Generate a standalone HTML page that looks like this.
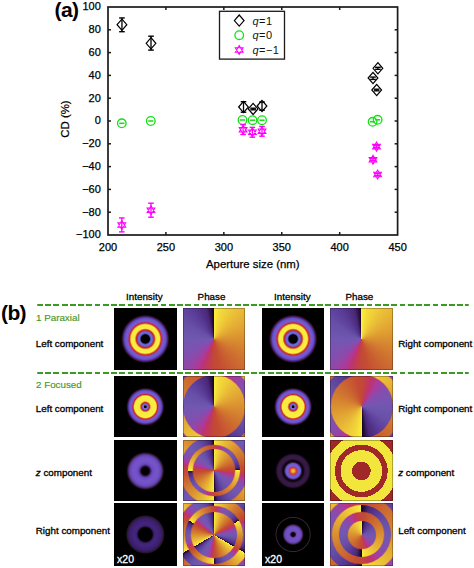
<!DOCTYPE html>
<html><head><meta charset="utf-8"><style>
html,body{margin:0;padding:0;background:#fff;}
body{width:474px;height:568px;position:relative;overflow:hidden;font-family:"Liberation Sans",sans-serif;}
.tk{font-family:"Liberation Sans",sans-serif;font-size:11px;fill:#000;stroke:#000;stroke-width:0.25px;}
.al{font-family:"Liberation Sans",sans-serif;font-size:11.4px;fill:#000;stroke:#000;stroke-width:0.25px;}
.lg{font-family:"Liberation Sans",sans-serif;font-size:11px;fill:#111;letter-spacing:0.45px;}
.pl{font-family:"Liberation Sans",sans-serif;font-size:21px;font-weight:bold;fill:#000;letter-spacing:-0.6px;}
.im{position:absolute;width:62px;height:62px;overflow:hidden;}
.im::after{content:'';position:absolute;inset:0;box-shadow:inset 0 0 0 1px rgba(0,0,0,0.28);}
.rg{position:absolute;border-radius:50%;box-shadow:0 0 0 0.6px rgba(226,112,40,0.5);}
.lb{position:absolute;font-size:9.8px;line-height:0;color:#000;white-space:nowrap;-webkit-text-stroke:0.3px currentColor;}
.hd{width:80px;text-align:center;}
.gr{color:#43972a;-webkit-text-stroke:0.15px currentColor;}
.pl2{position:absolute;font-size:21px;font-weight:bold;line-height:0;color:#000;letter-spacing:-0.6px;}
.x20{position:absolute;left:3px;top:55.96px;color:#fff;font-size:10.5px;line-height:0;-webkit-text-stroke:0.3px #fff;}
.dash{position:absolute;left:37.2px;width:432.2px;height:2px;border-radius:1px;background:repeating-linear-gradient(90deg,#3a9a22 0 5.8px,transparent 5.8px 8.24px);}
</style></head><body>
<svg width="474" height="290" viewBox="0 0 474 290" style="position:absolute;left:0;top:0">
<rect x="108.0" y="7.0" width="289.6" height="228.0" fill="none" stroke="#1a1a1a" stroke-width="1.7"/>
<text x="100.8" y="238.40" text-anchor="end" class="tk">−100</text>
<line x1="108.0" y1="212.20" x2="111.0" y2="212.20" stroke="#1a1a1a" stroke-width="1.5"/>
<line x1="397.6" y1="212.20" x2="394.6" y2="212.20" stroke="#1a1a1a" stroke-width="1.5"/>
<text x="100.8" y="215.60" text-anchor="end" class="tk">−80</text>
<line x1="108.0" y1="189.40" x2="111.0" y2="189.40" stroke="#1a1a1a" stroke-width="1.5"/>
<line x1="397.6" y1="189.40" x2="394.6" y2="189.40" stroke="#1a1a1a" stroke-width="1.5"/>
<text x="100.8" y="192.80" text-anchor="end" class="tk">−60</text>
<line x1="108.0" y1="166.60" x2="111.0" y2="166.60" stroke="#1a1a1a" stroke-width="1.5"/>
<line x1="397.6" y1="166.60" x2="394.6" y2="166.60" stroke="#1a1a1a" stroke-width="1.5"/>
<text x="100.8" y="170.00" text-anchor="end" class="tk">−40</text>
<line x1="108.0" y1="143.80" x2="111.0" y2="143.80" stroke="#1a1a1a" stroke-width="1.5"/>
<line x1="397.6" y1="143.80" x2="394.6" y2="143.80" stroke="#1a1a1a" stroke-width="1.5"/>
<text x="100.8" y="147.20" text-anchor="end" class="tk">−20</text>
<line x1="108.0" y1="121.00" x2="111.0" y2="121.00" stroke="#1a1a1a" stroke-width="1.5"/>
<line x1="397.6" y1="121.00" x2="394.6" y2="121.00" stroke="#1a1a1a" stroke-width="1.5"/>
<text x="100.8" y="124.40" text-anchor="end" class="tk">0</text>
<line x1="108.0" y1="98.20" x2="111.0" y2="98.20" stroke="#1a1a1a" stroke-width="1.5"/>
<line x1="397.6" y1="98.20" x2="394.6" y2="98.20" stroke="#1a1a1a" stroke-width="1.5"/>
<text x="100.8" y="101.60" text-anchor="end" class="tk">20</text>
<line x1="108.0" y1="75.40" x2="111.0" y2="75.40" stroke="#1a1a1a" stroke-width="1.5"/>
<line x1="397.6" y1="75.40" x2="394.6" y2="75.40" stroke="#1a1a1a" stroke-width="1.5"/>
<text x="100.8" y="78.80" text-anchor="end" class="tk">40</text>
<line x1="108.0" y1="52.60" x2="111.0" y2="52.60" stroke="#1a1a1a" stroke-width="1.5"/>
<line x1="397.6" y1="52.60" x2="394.6" y2="52.60" stroke="#1a1a1a" stroke-width="1.5"/>
<text x="100.8" y="56.00" text-anchor="end" class="tk">60</text>
<line x1="108.0" y1="29.80" x2="111.0" y2="29.80" stroke="#1a1a1a" stroke-width="1.5"/>
<line x1="397.6" y1="29.80" x2="394.6" y2="29.80" stroke="#1a1a1a" stroke-width="1.5"/>
<text x="100.8" y="33.20" text-anchor="end" class="tk">80</text>
<text x="100.8" y="10.40" text-anchor="end" class="tk">100</text>
<text x="108.00" y="250.6" text-anchor="middle" class="tk">200</text>
<line x1="165.92" y1="235.0" x2="165.92" y2="232.0" stroke="#1a1a1a" stroke-width="1.5"/>
<line x1="165.92" y1="7.0" x2="165.92" y2="10.0" stroke="#1a1a1a" stroke-width="1.5"/>
<text x="165.92" y="250.6" text-anchor="middle" class="tk">250</text>
<line x1="223.84" y1="235.0" x2="223.84" y2="232.0" stroke="#1a1a1a" stroke-width="1.5"/>
<line x1="223.84" y1="7.0" x2="223.84" y2="10.0" stroke="#1a1a1a" stroke-width="1.5"/>
<text x="223.84" y="250.6" text-anchor="middle" class="tk">300</text>
<line x1="281.76" y1="235.0" x2="281.76" y2="232.0" stroke="#1a1a1a" stroke-width="1.5"/>
<line x1="281.76" y1="7.0" x2="281.76" y2="10.0" stroke="#1a1a1a" stroke-width="1.5"/>
<text x="281.76" y="250.6" text-anchor="middle" class="tk">350</text>
<line x1="339.68" y1="235.0" x2="339.68" y2="232.0" stroke="#1a1a1a" stroke-width="1.5"/>
<line x1="339.68" y1="7.0" x2="339.68" y2="10.0" stroke="#1a1a1a" stroke-width="1.5"/>
<text x="339.68" y="250.6" text-anchor="middle" class="tk">400</text>
<text x="397.60" y="250.6" text-anchor="middle" class="tk">450</text>
<text x="252.8" y="268" text-anchor="middle" class="al">Aperture size (nm)</text>
<text transform="translate(68.8,119) rotate(-90)" text-anchor="middle" class="al">CD (%)</text>
<text x="54.6" y="17.0" class="pl">(a)</text>
<line x1="121.95" y1="17.95" x2="121.95" y2="31.70" stroke="#000" stroke-width="1.3"/><line x1="119.15" y1="17.95" x2="124.75" y2="17.95" stroke="#000" stroke-width="1.4"/><line x1="119.15" y1="31.70" x2="124.75" y2="31.70" stroke="#000" stroke-width="1.4"/>
<path d="M117.10,24.70 L121.95,19.10 L126.80,24.70 L121.95,30.30 Z" fill="none" stroke="#000" stroke-width="1.2"/>
<line x1="151.00" y1="36.20" x2="151.00" y2="50.10" stroke="#000" stroke-width="1.3"/><line x1="148.20" y1="36.20" x2="153.80" y2="36.20" stroke="#000" stroke-width="1.4"/><line x1="148.20" y1="50.10" x2="153.80" y2="50.10" stroke="#000" stroke-width="1.4"/>
<path d="M146.15,43.30 L151.00,37.70 L155.85,43.30 L151.00,48.90 Z" fill="none" stroke="#000" stroke-width="1.2"/>
<line x1="243.50" y1="101.70" x2="243.50" y2="112.20" stroke="#000" stroke-width="1.3"/><line x1="240.70" y1="101.70" x2="246.30" y2="101.70" stroke="#000" stroke-width="1.4"/><line x1="240.70" y1="112.20" x2="246.30" y2="112.20" stroke="#000" stroke-width="1.4"/>
<path d="M238.65,107.00 L243.50,101.40 L248.35,107.00 L243.50,112.60 Z" fill="none" stroke="#000" stroke-width="1.2"/>
<line x1="253.10" y1="108.20" x2="253.10" y2="109.80" stroke="#000" stroke-width="1.3"/><line x1="250.30" y1="108.20" x2="255.90" y2="108.20" stroke="#000" stroke-width="1.4"/><line x1="250.30" y1="109.80" x2="255.90" y2="109.80" stroke="#000" stroke-width="1.4"/>
<path d="M248.25,108.90 L253.10,103.30 L257.95,108.90 L253.10,114.50 Z" fill="none" stroke="#000" stroke-width="1.2"/>
<line x1="262.00" y1="102.00" x2="262.00" y2="110.20" stroke="#000" stroke-width="1.3"/><line x1="259.20" y1="102.00" x2="264.80" y2="102.00" stroke="#000" stroke-width="1.4"/><line x1="259.20" y1="110.20" x2="264.80" y2="110.20" stroke="#000" stroke-width="1.4"/>
<path d="M257.15,106.00 L262.00,100.40 L266.85,106.00 L262.00,111.60 Z" fill="none" stroke="#000" stroke-width="1.2"/>
<line x1="377.90" y1="67.30" x2="377.90" y2="69.30" stroke="#000" stroke-width="1.3"/><line x1="375.10" y1="67.30" x2="380.70" y2="67.30" stroke="#000" stroke-width="1.4"/><line x1="375.10" y1="69.30" x2="380.70" y2="69.30" stroke="#000" stroke-width="1.4"/>
<path d="M373.05,68.30 L377.90,62.70 L382.75,68.30 L377.90,73.90 Z" fill="none" stroke="#000" stroke-width="1.2"/>
<line x1="373.00" y1="77.10" x2="373.00" y2="79.40" stroke="#000" stroke-width="1.3"/><line x1="370.20" y1="77.10" x2="375.80" y2="77.10" stroke="#000" stroke-width="1.4"/><line x1="370.20" y1="79.40" x2="375.80" y2="79.40" stroke="#000" stroke-width="1.4"/>
<path d="M368.15,78.00 L373.00,72.40 L377.85,78.00 L373.00,83.60 Z" fill="none" stroke="#000" stroke-width="1.2"/>
<line x1="376.70" y1="89.20" x2="376.70" y2="90.80" stroke="#000" stroke-width="1.3"/><line x1="373.90" y1="89.20" x2="379.50" y2="89.20" stroke="#000" stroke-width="1.4"/><line x1="373.90" y1="90.80" x2="379.50" y2="90.80" stroke="#000" stroke-width="1.4"/>
<path d="M371.85,90.00 L376.70,84.40 L381.55,90.00 L376.70,95.60 Z" fill="none" stroke="#000" stroke-width="1.2"/>
<line x1="119.20" y1="123.30" x2="124.40" y2="123.30" stroke="#11e011" stroke-width="1.5"/>
<circle cx="121.80" cy="123.30" r="4.3" fill="none" stroke="#11e011" stroke-width="1.3"/>
<line x1="148.20" y1="121.00" x2="153.40" y2="121.00" stroke="#11e011" stroke-width="1.5"/>
<circle cx="150.80" cy="121.00" r="4.3" fill="none" stroke="#11e011" stroke-width="1.3"/>
<line x1="239.90" y1="120.00" x2="245.10" y2="120.00" stroke="#11e011" stroke-width="1.5"/>
<circle cx="242.50" cy="120.00" r="4.3" fill="none" stroke="#11e011" stroke-width="1.3"/>
<line x1="250.00" y1="120.20" x2="255.20" y2="120.20" stroke="#11e011" stroke-width="1.5"/>
<circle cx="252.60" cy="120.20" r="4.3" fill="none" stroke="#11e011" stroke-width="1.3"/>
<line x1="259.40" y1="120.20" x2="264.60" y2="120.20" stroke="#11e011" stroke-width="1.5"/>
<circle cx="262.00" cy="120.20" r="4.3" fill="none" stroke="#11e011" stroke-width="1.3"/>
<line x1="370.00" y1="121.80" x2="375.20" y2="121.80" stroke="#11e011" stroke-width="1.5"/>
<circle cx="372.60" cy="121.80" r="4.3" fill="none" stroke="#11e011" stroke-width="1.3"/>
<line x1="375.00" y1="119.80" x2="380.20" y2="119.80" stroke="#11e011" stroke-width="1.5"/>
<circle cx="377.60" cy="119.80" r="4.3" fill="none" stroke="#11e011" stroke-width="1.3"/>
<line x1="121.80" y1="217.95" x2="121.80" y2="231.90" stroke="#ff00ff" stroke-width="1.3"/><line x1="119.00" y1="217.95" x2="124.60" y2="217.95" stroke="#ff00ff" stroke-width="1.4"/><line x1="119.00" y1="231.90" x2="124.60" y2="231.90" stroke="#ff00ff" stroke-width="1.4"/>
<path d="M121.80,220.50 L125.70,227.25 L117.90,227.25 Z M125.70,222.75 L121.80,229.50 L117.90,222.75 Z" fill="none" stroke="#ff00ff" stroke-width="1.05" stroke-linejoin="miter"/>
<line x1="151.00" y1="203.20" x2="151.00" y2="217.20" stroke="#ff00ff" stroke-width="1.3"/><line x1="148.20" y1="203.20" x2="153.80" y2="203.20" stroke="#ff00ff" stroke-width="1.4"/><line x1="148.20" y1="217.20" x2="153.80" y2="217.20" stroke="#ff00ff" stroke-width="1.4"/>
<path d="M151.00,205.80 L154.90,212.55 L147.10,212.55 Z M154.90,208.05 L151.00,214.80 L147.10,208.05 Z" fill="none" stroke="#ff00ff" stroke-width="1.05" stroke-linejoin="miter"/>
<line x1="243.10" y1="124.70" x2="243.10" y2="134.50" stroke="#ff00ff" stroke-width="1.3"/><line x1="240.30" y1="124.70" x2="245.90" y2="124.70" stroke="#ff00ff" stroke-width="1.4"/><line x1="240.30" y1="134.50" x2="245.90" y2="134.50" stroke="#ff00ff" stroke-width="1.4"/>
<path d="M243.10,125.30 L247.00,132.05 L239.20,132.05 Z M247.00,127.55 L243.10,134.30 L239.20,127.55 Z" fill="none" stroke="#ff00ff" stroke-width="1.05" stroke-linejoin="miter"/>
<line x1="252.40" y1="127.40" x2="252.40" y2="137.20" stroke="#ff00ff" stroke-width="1.3"/><line x1="249.60" y1="127.40" x2="255.20" y2="127.40" stroke="#ff00ff" stroke-width="1.4"/><line x1="249.60" y1="137.20" x2="255.20" y2="137.20" stroke="#ff00ff" stroke-width="1.4"/>
<path d="M252.40,127.70 L256.30,134.45 L248.50,134.45 Z M256.30,129.95 L252.40,136.70 L248.50,129.95 Z" fill="none" stroke="#ff00ff" stroke-width="1.05" stroke-linejoin="miter"/>
<line x1="262.00" y1="126.40" x2="262.00" y2="136.20" stroke="#ff00ff" stroke-width="1.3"/><line x1="259.20" y1="126.40" x2="264.80" y2="126.40" stroke="#ff00ff" stroke-width="1.4"/><line x1="259.20" y1="136.20" x2="264.80" y2="136.20" stroke="#ff00ff" stroke-width="1.4"/>
<path d="M262.00,126.80 L265.90,133.55 L258.10,133.55 Z M265.90,129.05 L262.00,135.80 L258.10,129.05 Z" fill="none" stroke="#ff00ff" stroke-width="1.05" stroke-linejoin="miter"/>
<line x1="376.50" y1="145.60" x2="376.50" y2="147.60" stroke="#ff00ff" stroke-width="1.3"/><line x1="373.70" y1="145.60" x2="379.30" y2="145.60" stroke="#ff00ff" stroke-width="1.4"/><line x1="373.70" y1="147.60" x2="379.30" y2="147.60" stroke="#ff00ff" stroke-width="1.4"/>
<path d="M376.50,142.10 L380.40,148.85 L372.60,148.85 Z M380.40,144.35 L376.50,151.10 L372.60,144.35 Z" fill="none" stroke="#ff00ff" stroke-width="1.05" stroke-linejoin="miter"/>
<line x1="373.00" y1="158.70" x2="373.00" y2="160.70" stroke="#ff00ff" stroke-width="1.3"/><line x1="370.20" y1="158.70" x2="375.80" y2="158.70" stroke="#ff00ff" stroke-width="1.4"/><line x1="370.20" y1="160.70" x2="375.80" y2="160.70" stroke="#ff00ff" stroke-width="1.4"/>
<path d="M373.00,155.20 L376.90,161.95 L369.10,161.95 Z M376.90,157.45 L373.00,164.20 L369.10,157.45 Z" fill="none" stroke="#ff00ff" stroke-width="1.05" stroke-linejoin="miter"/>
<line x1="377.60" y1="173.50" x2="377.60" y2="175.50" stroke="#ff00ff" stroke-width="1.3"/><line x1="374.80" y1="173.50" x2="380.40" y2="173.50" stroke="#ff00ff" stroke-width="1.4"/><line x1="374.80" y1="175.50" x2="380.40" y2="175.50" stroke="#ff00ff" stroke-width="1.4"/>
<path d="M377.60,170.00 L381.50,176.75 L373.70,176.75 Z M381.50,172.25 L377.60,179.00 L373.70,172.25 Z" fill="none" stroke="#ff00ff" stroke-width="1.05" stroke-linejoin="miter"/>
<rect x="219.5" y="11.3" width="65" height="47.8" fill="#fff" stroke="#1a1a1a" stroke-width="1.3"/>
<path d="M234.35,20.60 L239.20,15.00 L244.05,20.60 L239.20,26.20 Z" fill="none" stroke="#000" stroke-width="1.2"/>
<circle cx="239.20" cy="35.20" r="4.3" fill="none" stroke="#11e011" stroke-width="1.3"/>
<path d="M239.20,45.50 L243.10,52.25 L235.30,52.25 Z M243.10,47.75 L239.20,54.50 L235.30,47.75 Z" fill="none" stroke="#ff00ff" stroke-width="1.05" stroke-linejoin="miter"/>
<text x="252.5" y="24.6" class="lg"><tspan font-style="italic">q</tspan>=1</text>
<text x="252.5" y="39.2" class="lg"><tspan font-style="italic">q</tspan>=0</text>
<text x="252.5" y="54" class="lg"><tspan font-style="italic">q</tspan>=−1</text>
</svg>
<div class="im" style="left:114.1px;top:308.0px;width:62.65px;height:61.9px;background:radial-gradient(circle at 31.32px 30.95px, #000 0px, #000 4.2px, #4040a0 5px, #7070e0 6px, #7060d0 7.2px, #a03870 8px, #c82828 9px, #e89028 9.9px, #f8e840 10.6px, #f8f040 14.2px, #e89028 15px, #c82828 15.9px, #a040a0 17px, #7060d0 18.3px, #6850c8 20.5px, #4a2890 22px, #301018 23.2px, #000 24.2px)"></div>
<div class="im" style="left:182.9px;top:308.0px;width:62.05px;height:61.9px;background:repeating-conic-gradient(from 0deg, #fcf040 0.00deg, #f4dc3a 10.80deg, #e8b836 45.00deg, #e0a032 72.00deg, #da9030 90.00deg, #cc6a30 135.00deg, #c44c32 169.20deg, #c24838 180.00deg, #c23c50 190.80deg, #bc3470 201.60deg, #b03898 210.60deg, #9048a8 225.00deg, #8050b0 241.20deg, #7058b0 270.00deg, #6850a8 298.80deg, #5a3c98 324.00deg, #4a2878 345.60deg, #2a1040 354.60deg, #100418 360.00deg)"></div>
<div class="im" style="left:262.1px;top:308.0px;width:62.2px;height:61.9px;background:radial-gradient(circle at 31.10px 30.95px, #000 0px, #000 4.2px, #4040a0 5px, #7070e0 6px, #7060d0 7.2px, #a03870 8px, #c82828 9px, #e89028 9.9px, #f8e840 10.6px, #f8f040 14.2px, #e89028 15px, #c82828 15.9px, #a040a0 17px, #7060d0 18.3px, #6850c8 20.5px, #4a2890 22px, #301018 23.2px, #000 24.2px)"></div>
<div class="im" style="left:330.4px;top:308.0px;width:62.65px;height:61.9px;background:repeating-conic-gradient(from 0deg, #fcf040 0.00deg, #f4dc3a 10.80deg, #e8b836 45.00deg, #e0a032 72.00deg, #da9030 90.00deg, #cc6a30 135.00deg, #c44c32 169.20deg, #c24838 180.00deg, #c23c50 190.80deg, #bc3470 201.60deg, #b03898 210.60deg, #9048a8 225.00deg, #8050b0 241.20deg, #7058b0 270.00deg, #6850a8 298.80deg, #5a3c98 324.00deg, #4a2878 345.60deg, #2a1040 354.60deg, #100418 360.00deg)"></div>
<div class="im" style="left:114.1px;top:375.8px;width:62.65px;height:61.5px;background:radial-gradient(circle at 31.32px 30.75px, #000 0px, #000 1px, #7070e0 1.8px, #7060d0 2.9px, #a03870 3.6px, #c82828 4.3px, #e89028 5.0px, #f8e840 5.8px, #f8f040 10.8px, #e89028 11.5px, #c82828 12.2px, #a040a0 13.2px, #7060d0 14.2px, #6850c8 16px, #4a2890 17.2px, #301018 18.2px, #000 19px)"></div>
<div class="im" style="left:182.9px;top:375.8px;width:62.05px;height:61.5px;background:repeating-conic-gradient(from 0deg, #fcf040 0.00deg, #f4dc3a 10.80deg, #e8b836 45.00deg, #e0a032 72.00deg, #da9030 90.00deg, #cc6a30 135.00deg, #c44c32 169.20deg, #c24838 180.00deg, #c23c50 190.80deg, #bc3470 201.60deg, #b03898 210.60deg, #9048a8 225.00deg, #8050b0 241.20deg, #7058b0 270.00deg, #6850a8 298.80deg, #5a3c98 324.00deg, #4a2878 345.60deg, #2a1040 354.60deg, #100418 360.00deg)"><div class="rg" style="width:80.80px;height:80.80px;left:-9.38px;top:-9.65px;background:repeating-conic-gradient(from 180.0deg, #fcf040 0.00deg, #f4dc3a 10.80deg, #e8b836 45.00deg, #e0a032 72.00deg, #da9030 90.00deg, #cc6a30 135.00deg, #c44c32 169.20deg, #c24838 180.00deg, #c23c50 190.80deg, #bc3470 201.60deg, #b03898 210.60deg, #9048a8 225.00deg, #8050b0 241.20deg, #7058b0 270.00deg, #6850a8 298.80deg, #5a3c98 324.00deg, #4a2878 345.60deg, #2a1040 354.60deg, #100418 360.00deg)"></div><div class="rg" style="width:62.40px;height:62.40px;left:-0.18px;top:-0.45px;background:repeating-conic-gradient(from 0deg, #fcf040 0.00deg, #f4dc3a 10.80deg, #e8b836 45.00deg, #e0a032 72.00deg, #da9030 90.00deg, #cc6a30 135.00deg, #c44c32 169.20deg, #c24838 180.00deg, #c23c50 190.80deg, #bc3470 201.60deg, #b03898 210.60deg, #9048a8 225.00deg, #8050b0 241.20deg, #7058b0 270.00deg, #6850a8 298.80deg, #5a3c98 324.00deg, #4a2878 345.60deg, #2a1040 354.60deg, #100418 360.00deg)"></div></div>
<div class="im" style="left:262.1px;top:375.8px;width:62.2px;height:61.5px;background:radial-gradient(circle at 31.10px 30.75px, #000 0px, #000 1px, #7070e0 1.8px, #7060d0 2.9px, #a03870 3.6px, #c82828 4.3px, #e89028 5.0px, #f8e840 5.8px, #f8f040 10.8px, #e89028 11.5px, #c82828 12.2px, #a040a0 13.2px, #7060d0 14.2px, #6850c8 16px, #4a2890 17.2px, #301018 18.2px, #000 19px)"></div>
<div class="im" style="left:330.4px;top:375.8px;width:62.65px;height:61.5px;background:repeating-conic-gradient(from 180deg, #fcf040 0.00deg, #f4dc3a 10.80deg, #e8b836 45.00deg, #e0a032 72.00deg, #da9030 90.00deg, #cc6a30 135.00deg, #c44c32 169.20deg, #c24838 180.00deg, #c23c50 190.80deg, #bc3470 201.60deg, #b03898 210.60deg, #9048a8 225.00deg, #8050b0 241.20deg, #7058b0 270.00deg, #6850a8 298.80deg, #5a3c98 324.00deg, #4a2878 345.60deg, #2a1040 354.60deg, #100418 360.00deg)"><div class="rg" style="width:80.80px;height:80.80px;left:-9.07px;top:-9.65px;background:repeating-conic-gradient(from 360.0deg, #fcf040 0.00deg, #f4dc3a 10.80deg, #e8b836 45.00deg, #e0a032 72.00deg, #da9030 90.00deg, #cc6a30 135.00deg, #c44c32 169.20deg, #c24838 180.00deg, #c23c50 190.80deg, #bc3470 201.60deg, #b03898 210.60deg, #9048a8 225.00deg, #8050b0 241.20deg, #7058b0 270.00deg, #6850a8 298.80deg, #5a3c98 324.00deg, #4a2878 345.60deg, #2a1040 354.60deg, #100418 360.00deg)"></div><div class="rg" style="width:62.40px;height:62.40px;left:0.12px;top:-0.45px;background:repeating-conic-gradient(from 180deg, #fcf040 0.00deg, #f4dc3a 10.80deg, #e8b836 45.00deg, #e0a032 72.00deg, #da9030 90.00deg, #cc6a30 135.00deg, #c44c32 169.20deg, #c24838 180.00deg, #c23c50 190.80deg, #bc3470 201.60deg, #b03898 210.60deg, #9048a8 225.00deg, #8050b0 241.20deg, #7058b0 270.00deg, #6850a8 298.80deg, #5a3c98 324.00deg, #4a2878 345.60deg, #2a1040 354.60deg, #100418 360.00deg)"></div></div>
<div class="im" style="left:114.1px;top:439.6px;width:62.65px;height:61.9px;background:radial-gradient(circle at 31.32px 30.95px, #000 0px, #000 3.6px, #2a1030 4.6px, #4a2a80 5.6px, #6a48c0 7px, #7454c8 10px, #7252c6 13px, #6444b4 15.5px, #4a2c78 16.8px, #30182c 17.8px, #0a0408 18.8px, #000 19.3px)"></div>
<div class="im" style="left:182.9px;top:439.6px;width:62.05px;height:61.9px;background:repeating-conic-gradient(from 90.0deg, #fcf040 0.00deg, #f4dc3a 5.40deg, #e8b836 22.50deg, #e0a032 36.00deg, #da9030 45.00deg, #cc6a30 67.50deg, #c44c32 84.60deg, #c24838 90.00deg, #c23c50 95.40deg, #bc3470 100.80deg, #b03898 105.30deg, #9048a8 112.50deg, #8050b0 120.60deg, #7058b0 135.00deg, #6850a8 149.40deg, #5a3c98 162.00deg, #4a2878 172.80deg, #2a1040 177.30deg, #100418 180.00deg)"><div class="rg" style="width:68.20px;height:68.20px;left:-3.08px;top:-3.15px;background:repeating-conic-gradient(from 0deg, #fcf040 0.00deg, #f4dc3a 5.40deg, #e8b836 22.50deg, #e0a032 36.00deg, #da9030 45.00deg, #cc6a30 67.50deg, #c44c32 84.60deg, #c24838 90.00deg, #c23c50 95.40deg, #bc3470 100.80deg, #b03898 105.30deg, #9048a8 112.50deg, #8050b0 120.60deg, #7058b0 135.00deg, #6850a8 149.40deg, #5a3c98 162.00deg, #4a2878 172.80deg, #2a1040 177.30deg, #100418 180.00deg)"></div><div class="rg" style="width:51.60px;height:51.60px;left:5.22px;top:5.15px;background:repeating-conic-gradient(from 90.0deg, #fcf040 0.00deg, #f4dc3a 5.40deg, #e8b836 22.50deg, #e0a032 36.00deg, #da9030 45.00deg, #cc6a30 67.50deg, #c44c32 84.60deg, #c24838 90.00deg, #c23c50 95.40deg, #bc3470 100.80deg, #b03898 105.30deg, #9048a8 112.50deg, #8050b0 120.60deg, #7058b0 135.00deg, #6850a8 149.40deg, #5a3c98 162.00deg, #4a2878 172.80deg, #2a1040 177.30deg, #100418 180.00deg)"></div><div class="rg" style="width:42.40px;height:42.40px;left:9.82px;top:9.75px;background:repeating-conic-gradient(from 0deg, #fcf040 0.00deg, #f4dc3a 5.40deg, #e8b836 22.50deg, #e0a032 36.00deg, #da9030 45.00deg, #cc6a30 67.50deg, #c44c32 84.60deg, #c24838 90.00deg, #c23c50 95.40deg, #bc3470 100.80deg, #b03898 105.30deg, #9048a8 112.50deg, #8050b0 120.60deg, #7058b0 135.00deg, #6850a8 149.40deg, #5a3c98 162.00deg, #4a2878 172.80deg, #2a1040 177.30deg, #100418 180.00deg)"></div></div>
<div class="im" style="left:262.1px;top:439.6px;width:62.2px;height:61.9px;background:radial-gradient(circle at 31.10px 30.95px, #f0c848 0px, #f0a838 1.4px, #e06030 2.6px, #c83838 3.6px, #9050a8 4.6px, #7060d8 5.6px, #6a58d0 7.4px, #402060 8.3px, #100810 9.3px, #100810 10.6px, #2e1640 11.8px, #3a1a4a 14px, #301638 16px, #0a040a 17.4px, #000 18px)"></div>
<div class="im" style="left:330.4px;top:439.6px;width:62.65px;height:61.9px;background:radial-gradient(circle at 31.32px 30.95px, #a02828 0 9.3px, #f2e63c 9.3px 20.8px, #a02828 20.8px 26.3px, #f2e63c 26.3px 35.5px, #a02828 35.5px)"></div>
<div class="im" style="left:114.1px;top:503.4px;width:62.65px;height:63.0px;background:radial-gradient(circle at 31.32px 31.50px, #000 0px, #000 6.6px, #1e0c28 7.6px, #3a2070 8.6px, #44267e 11px, #3e2274 13.5px, #3a1e6a 16px, #2e1848 17.5px, #24141c 18.6px, #000 19.4px)"><span class="x20">x20</span></div>
<div class="im" style="left:182.9px;top:503.4px;width:62.05px;height:63.0px;background:repeating-conic-gradient(from 60.0deg, #fcf040 0.00deg, #f4dc3a 3.60deg, #e8b836 15.00deg, #e0a032 24.00deg, #da9030 30.00deg, #cc6a30 45.00deg, #c44c32 56.40deg, #c24838 60.00deg, #c23c50 63.60deg, #bc3470 67.20deg, #b03898 70.20deg, #9048a8 75.00deg, #8050b0 80.40deg, #7058b0 90.00deg, #6850a8 99.60deg, #5a3c98 108.00deg, #4a2878 115.20deg, #2a1040 118.20deg, #100418 120.00deg)"><div class="rg" style="width:76.00px;height:76.00px;left:-6.98px;top:-6.50px;background:repeating-conic-gradient(from 0deg, #fcf040 0.00deg, #f4dc3a 3.60deg, #e8b836 15.00deg, #e0a032 24.00deg, #da9030 30.00deg, #cc6a30 45.00deg, #c44c32 56.40deg, #c24838 60.00deg, #c23c50 63.60deg, #bc3470 67.20deg, #b03898 70.20deg, #9048a8 75.00deg, #8050b0 80.40deg, #7058b0 90.00deg, #6850a8 99.60deg, #5a3c98 108.00deg, #4a2878 115.20deg, #2a1040 118.20deg, #100418 120.00deg)"></div><div class="rg" style="width:58.40px;height:58.40px;left:1.82px;top:2.30px;background:repeating-conic-gradient(from 60.0deg, #fcf040 0.00deg, #f4dc3a 3.60deg, #e8b836 15.00deg, #e0a032 24.00deg, #da9030 30.00deg, #cc6a30 45.00deg, #c44c32 56.40deg, #c24838 60.00deg, #c23c50 63.60deg, #bc3470 67.20deg, #b03898 70.20deg, #9048a8 75.00deg, #8050b0 80.40deg, #7058b0 90.00deg, #6850a8 99.60deg, #5a3c98 108.00deg, #4a2878 115.20deg, #2a1040 118.20deg, #100418 120.00deg)"></div><div class="rg" style="width:46.40px;height:46.40px;left:7.82px;top:8.30px;background:repeating-conic-gradient(from 0deg, #fcf040 0.00deg, #f4dc3a 3.60deg, #e8b836 15.00deg, #e0a032 24.00deg, #da9030 30.00deg, #cc6a30 45.00deg, #c44c32 56.40deg, #c24838 60.00deg, #c23c50 63.60deg, #bc3470 67.20deg, #b03898 70.20deg, #9048a8 75.00deg, #8050b0 80.40deg, #7058b0 90.00deg, #6850a8 99.60deg, #5a3c98 108.00deg, #4a2878 115.20deg, #2a1040 118.20deg, #100418 120.00deg)"></div></div>
<div class="im" style="left:262.1px;top:503.4px;width:62.2px;height:63.0px;background:radial-gradient(circle at 31.10px 31.50px, #000 0px, #000 1.3px, #2a1030 2.3px, #6a48b8 3.3px, #7452c4 5px, #6e4ec0 7.5px, #5a3ca0 8.8px, #3a1838 9.8px, #000 10.7px, #000 16.2px, #3a2634 17.1px, #000 18px)"><span class="x20">x20</span></div>
<div class="im" style="left:330.4px;top:503.4px;width:62.65px;height:63.0px;background:repeating-conic-gradient(from 0deg, #100418 0.00deg, #2a1040 5.40deg, #4a2878 14.40deg, #5a3c98 36.00deg, #6850a8 61.20deg, #7058b0 90.00deg, #8050b0 118.80deg, #9048a8 135.00deg, #b03898 149.40deg, #bc3470 158.40deg, #c23c50 169.20deg, #c24838 180.00deg, #c44c32 190.80deg, #cc6a30 225.00deg, #da9030 270.00deg, #e0a032 288.00deg, #e8b836 315.00deg, #f4dc3a 349.20deg, #fcf040 360.00deg)"><div class="rg" style="width:77.00px;height:77.00px;left:-7.18px;top:-7.00px;background:repeating-conic-gradient(from 180.0deg, #100418 0.00deg, #2a1040 5.40deg, #4a2878 14.40deg, #5a3c98 36.00deg, #6850a8 61.20deg, #7058b0 90.00deg, #8050b0 118.80deg, #9048a8 135.00deg, #b03898 149.40deg, #bc3470 158.40deg, #c23c50 169.20deg, #c24838 180.00deg, #c44c32 190.80deg, #cc6a30 225.00deg, #da9030 270.00deg, #e0a032 288.00deg, #e8b836 315.00deg, #f4dc3a 349.20deg, #fcf040 360.00deg)"></div><div class="rg" style="width:59.00px;height:59.00px;left:1.82px;top:2.00px;background:repeating-conic-gradient(from 0deg, #100418 0.00deg, #2a1040 5.40deg, #4a2878 14.40deg, #5a3c98 36.00deg, #6850a8 61.20deg, #7058b0 90.00deg, #8050b0 118.80deg, #9048a8 135.00deg, #b03898 149.40deg, #bc3470 158.40deg, #c23c50 169.20deg, #c24838 180.00deg, #c44c32 190.80deg, #cc6a30 225.00deg, #da9030 270.00deg, #e0a032 288.00deg, #e8b836 315.00deg, #f4dc3a 349.20deg, #fcf040 360.00deg)"></div><div class="rg" style="width:44.80px;height:44.80px;left:8.93px;top:9.10px;background:repeating-conic-gradient(from 180.0deg, #100418 0.00deg, #2a1040 5.40deg, #4a2878 14.40deg, #5a3c98 36.00deg, #6850a8 61.20deg, #7058b0 90.00deg, #8050b0 118.80deg, #9048a8 135.00deg, #b03898 149.40deg, #bc3470 158.40deg, #c23c50 169.20deg, #c24838 180.00deg, #c44c32 190.80deg, #cc6a30 225.00deg, #da9030 270.00deg, #e0a032 288.00deg, #e8b836 315.00deg, #f4dc3a 349.20deg, #fcf040 360.00deg)"></div><div class="rg" style="width:28.20px;height:28.20px;left:17.23px;top:17.40px;background:repeating-conic-gradient(from 0deg, #100418 0.00deg, #2a1040 5.40deg, #4a2878 14.40deg, #5a3c98 36.00deg, #6850a8 61.20deg, #7058b0 90.00deg, #8050b0 118.80deg, #9048a8 135.00deg, #b03898 149.40deg, #bc3470 158.40deg, #c23c50 169.20deg, #c24838 180.00deg, #c44c32 190.80deg, #cc6a30 225.00deg, #da9030 270.00deg, #e0a032 288.00deg, #e8b836 315.00deg, #f4dc3a 349.20deg, #fcf040 360.00deg)"></div></div>
<div class="lb hd" style="left:104.30000000000001px;top:297.10px">Intensity</div>
<div class="lb hd" style="left:171.5px;top:297.10px">Phase</div>
<div class="lb hd" style="left:252.3px;top:297.10px">Intensity</div>
<div class="lb hd" style="left:319.4px;top:297.10px">Phase</div>
<div class="lb gr" style="left:36px;top:318.10px;">1 Paraxial</div>
<div class="lb gr" style="left:36px;top:384.60px;">2 Focused</div>
<div class="lb" style="left:35.8px;top:343.80px;">Left component</div>
<div class="lb" style="left:35.8px;top:409.30px;">Left component</div>
<div class="lb" style="left:35.8px;top:473.40px;"><i>z</i> component</div>
<div class="lb" style="left:35.8px;top:530.80px;">Right component</div>
<div class="lb" style="left:398.2px;top:343.80px;">Right component</div>
<div class="lb" style="left:398.2px;top:409.30px;">Right component</div>
<div class="lb" style="left:398.2px;top:472.90px;"><i>z</i> component</div>
<div class="lb" style="left:398.2px;top:530.80px;">Left component</div>
<div class="pl2" style="left:1.0px;top:312.72px">(b)</div>
<div class="dash" style="top:304.2px"></div>
<div class="dash" style="top:371.9px"></div>
</body></html>
